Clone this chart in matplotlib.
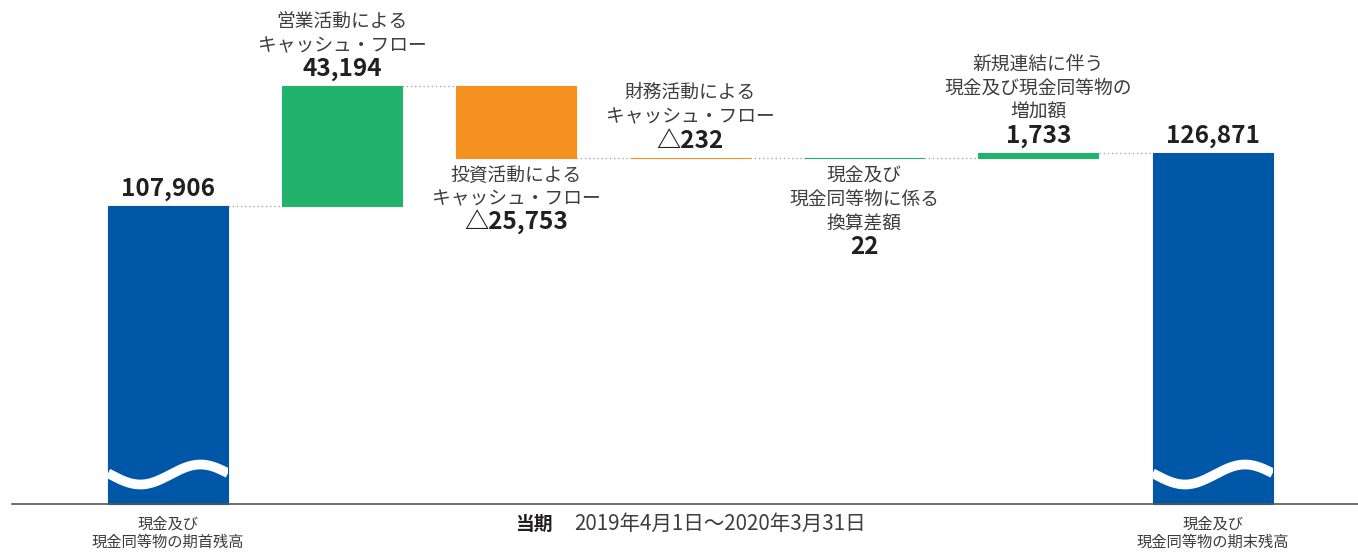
import numpy as np
import matplotlib
matplotlib.use('Agg')
import matplotlib.pyplot as plt

plt.rcParams['font.family'] = ['Noto Sans CJK JP', 'DejaVu Sans']

# data
names = ['現金及び\n現金同等物の期首残高',
         '営業活動による\nキャッシュ・フロー',
         '投資活動による\nキャッシュ・フロー',
         '財務活動による\nキャッシュ・フロー',
         '現金及び\n現金同等物に係る\n換算差額',
         '新規連結に伴う\n現金及び現金同等物の\n増加額',
         '現金及び\n現金同等物の期末残高']
values = [107906, 43194, -25753, -232, 22, 1733, 126871]
value_labels = ['107,906', '43,194', '△25,753', '△232', '22', '1,733', '126,871']
placement = ['total', 'above', 'below', 'above', 'below', 'above', 'total']
period_label = '当期'
period_text = '2019年4月1日～2020年3月31日'

BLUE = '#0057a7'
GREEN = '#21b26c'
ORANGE = '#f5921f'
LABEL_C = '#3d3d3d'
VALUE_C = '#231f20'

# layout (pixels)
W, H = 1358, 552
base_px = 503.5          # baseline from top
k = 0.00276              # px per unit
x0_px, step_px = 168, 174.1
bar_w = 120 / step_px

fig = plt.figure(figsize=(W / 100, H / 100), dpi=100)
ax = fig.add_axes([0, 0, 1, 1])
ax.axis('off')
ax.set_xlim(-x0_px / step_px, (W - x0_px) / step_px)
ax.set_ylim(-(H - base_px) / k, base_px / k)

# waterfall positions
bottoms, tops, colors, levels = [], [], [], []
level = 0
for i, v in enumerate(values):
    if placement[i] == 'total':
        b, t = 0, v
        level = v
        colors.append(BLUE)
    else:
        b, t = min(level, level + v), max(level, level + v)
        level += v
        colors.append(GREEN if v > 0 else ORANGE)
    bottoms.append(b)
    tops.append(t)
    levels.append(level)

xs = np.arange(len(values))
heights = [t - b for b, t in zip(bottoms, tops)]
bars = ax.bar(xs, heights, bottom=bottoms, width=bar_w, color=colors,
              edgecolor=colors, linewidth=0.8, zorder=2)

# connectors
for i in range(len(values) - 1):
    ax.plot([xs[i] + bar_w / 2, xs[i + 1] - bar_w / 2], [levels[i], levels[i]],
            color='#a8a8a8', lw=1, ls=(0, (1, 2)), zorder=1)

# baseline
ax.axhline(0, xmin=12 / W, xmax=1, color='#555555', lw=1.2, zorder=3)

# wave break in total bars
f = np.linspace(0, 1, 200)
for i in (0, len(values) - 1):
    wx = xs[i] - bar_w / 2 + f * bar_w
    wy = (29 - 10 * np.sin(2 * np.pi * (f - 0.02))) / k
    ln, = ax.plot(wx, wy, color='white', lw=7, solid_capstyle='butt', zorder=4)
    ln.set_clip_path(bars[i])


def put(x, y, text, dy, bold=False, size=13.5, color=LABEL_C):
    ax.annotate(text, (x, y), xytext=(0, dy), textcoords='offset pixels',
                ha='center', va='center', fontsize=size, color=color,
                fontweight='bold' if bold else 'normal')


for i in range(len(values)):
    lines = names[i].split('\n')
    if placement[i] == 'total':
        put(xs[i], tops[i], value_labels[i], 17, bold=True, size=17.5, color=VALUE_C)
        for j, line in enumerate(lines):
            put(xs[i], 0, line, -21 - 18 * j, size=11)
    elif placement[i] == 'above':
        put(xs[i], tops[i], value_labels[i], 17, bold=True, size=17.5, color=VALUE_C)
        for j, line in enumerate(reversed(lines)):
            put(xs[i], tops[i], line, 41 + 24 * j)
    else:
        for j, line in enumerate(lines):
            put(xs[i], bottoms[i], line, -17.5 - 24 * j)
        put(xs[i], bottoms[i], value_labels[i], -17.5 - 24 * len(lines) + 1,
            bold=True, size=17.5, color=VALUE_C)

# period text at bottom
fig.text(515 / W, (H - 524) / H, period_label, ha='left', va='center',
         fontsize=13.5, fontweight='bold', color=VALUE_C)
fig.text(574 / W, (H - 524) / H, period_text, ha='left', va='center',
         fontsize=14.8, color=LABEL_C)

fig.savefig('out.png', dpi=100)
